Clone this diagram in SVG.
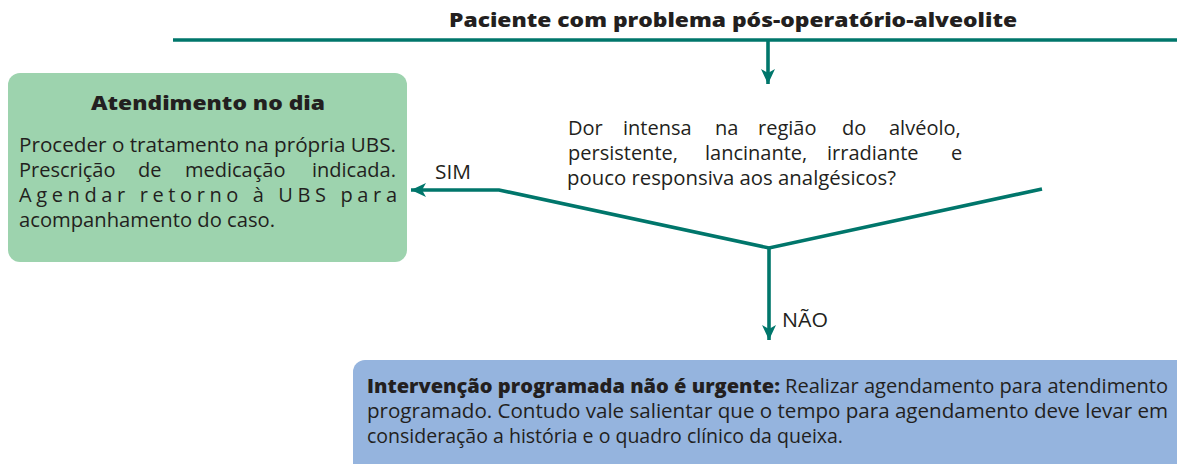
<svg xmlns="http://www.w3.org/2000/svg" width="1177" height="464" viewBox="0 0 1177 464">
<defs>
<marker id="ah" markerUnits="userSpaceOnUse" markerWidth="16" markerHeight="16" viewBox="0 0 16 16" refX="15" refY="8" orient="auto">
<path d="M0,1 L15,8 L0,15 L4,8 Z" fill="#00766b"/>
</marker>
</defs>
<style>
.t{font-family:"Open Sans","Noto Sans","Liberation Sans",sans-serif;font-size:20px;fill:#231f20}
.b{font-family:"Open Sans","Noto Sans","Liberation Sans",sans-serif;font-weight:800;fill:#231f20}
.c{fill:none;stroke:#00766b;stroke-width:3.6}
</style>
<rect width="1177" height="464" fill="#ffffff"/>
<g id="title">
<text class="b" x="449" y="27" font-size="19" textLength="568" lengthAdjust="spacingAndGlyphs">Paciente com problema pós-operatório-alveolite</text>
</g>
<g id="connectors">
<line class="c" x1="173" y1="40" x2="1177" y2="40" stroke-width="4"/>
<line class="c" x1="768" y1="40" x2="768" y2="84" marker-end="url(#ah)"/>
<polyline class="c" points="1042,189 769,248 499,190 411,190" marker-end="url(#ah)"/>
<line class="c" x1="769" y1="248" x2="769" y2="340" marker-end="url(#ah)"/>
</g>
<g id="node-atendimento">
<rect x="8" y="73" width="399" height="189" rx="12" fill="#9dd3ae"/>
<text class="b" x="91" y="110" font-size="19" textLength="234" lengthAdjust="spacingAndGlyphs">Atendimento no dia</text>
<text class="t" x="19" y="152" textLength="377" lengthAdjust="spacingAndGlyphs">Proceder o tratamento na própria UBS.</text>
<text class="t" y="177"><tspan x="19">Prescrição</tspan><tspan x="138">de</tspan><tspan x="185">medicação</tspan><tspan x="312">indicada.</tspan></text>
<text class="t" x="19" y="202" textLength="378" lengthAdjust="spacing">Agendar retorno à UBS para</text>
<text class="t" x="19" y="227" textLength="256" lengthAdjust="spacingAndGlyphs">acompanhamento do caso.</text>
</g>
<g id="node-pergunta">
<text class="t" y="135"><tspan x="568">Dor</tspan><tspan x="623">intensa</tspan><tspan x="715">na</tspan><tspan x="758">região</tspan><tspan x="842">do</tspan><tspan x="889">alvéolo,</tspan></text>
<text class="t" y="160"><tspan x="568">persistente,</tspan><tspan x="705">lancinante,</tspan><tspan x="827">irradiante</tspan><tspan x="951">e</tspan></text>
<text class="t" x="567" y="185" textLength="329" lengthAdjust="spacingAndGlyphs">pouco responsiva aos analgésicos?</text>
</g>
<g id="labels">
<text class="t" x="435" y="179" textLength="36" lengthAdjust="spacingAndGlyphs">SIM</text>
<text class="t" x="782" y="327" textLength="46" lengthAdjust="spacingAndGlyphs">NÃO</text>
</g>
<g id="node-intervencao">
<rect x="353" y="360" width="900" height="200" rx="12" fill="#95b4de"/>
<text class="b" x="367" y="393" font-size="20" textLength="413" lengthAdjust="spacingAndGlyphs">Intervenção programada não é urgente:</text>
<text class="t" x="785" y="393" textLength="383" lengthAdjust="spacingAndGlyphs">Realizar agendamento para atendimento</text>
<text class="t" x="367" y="418" textLength="801" lengthAdjust="spacingAndGlyphs">programado. Contudo vale salientar que o  tempo para agendamento deve levar em</text>
<text class="t" x="367" y="443" textLength="476" lengthAdjust="spacingAndGlyphs">consideração a história e o quadro clínico da queixa.</text>
</g>
</svg>
